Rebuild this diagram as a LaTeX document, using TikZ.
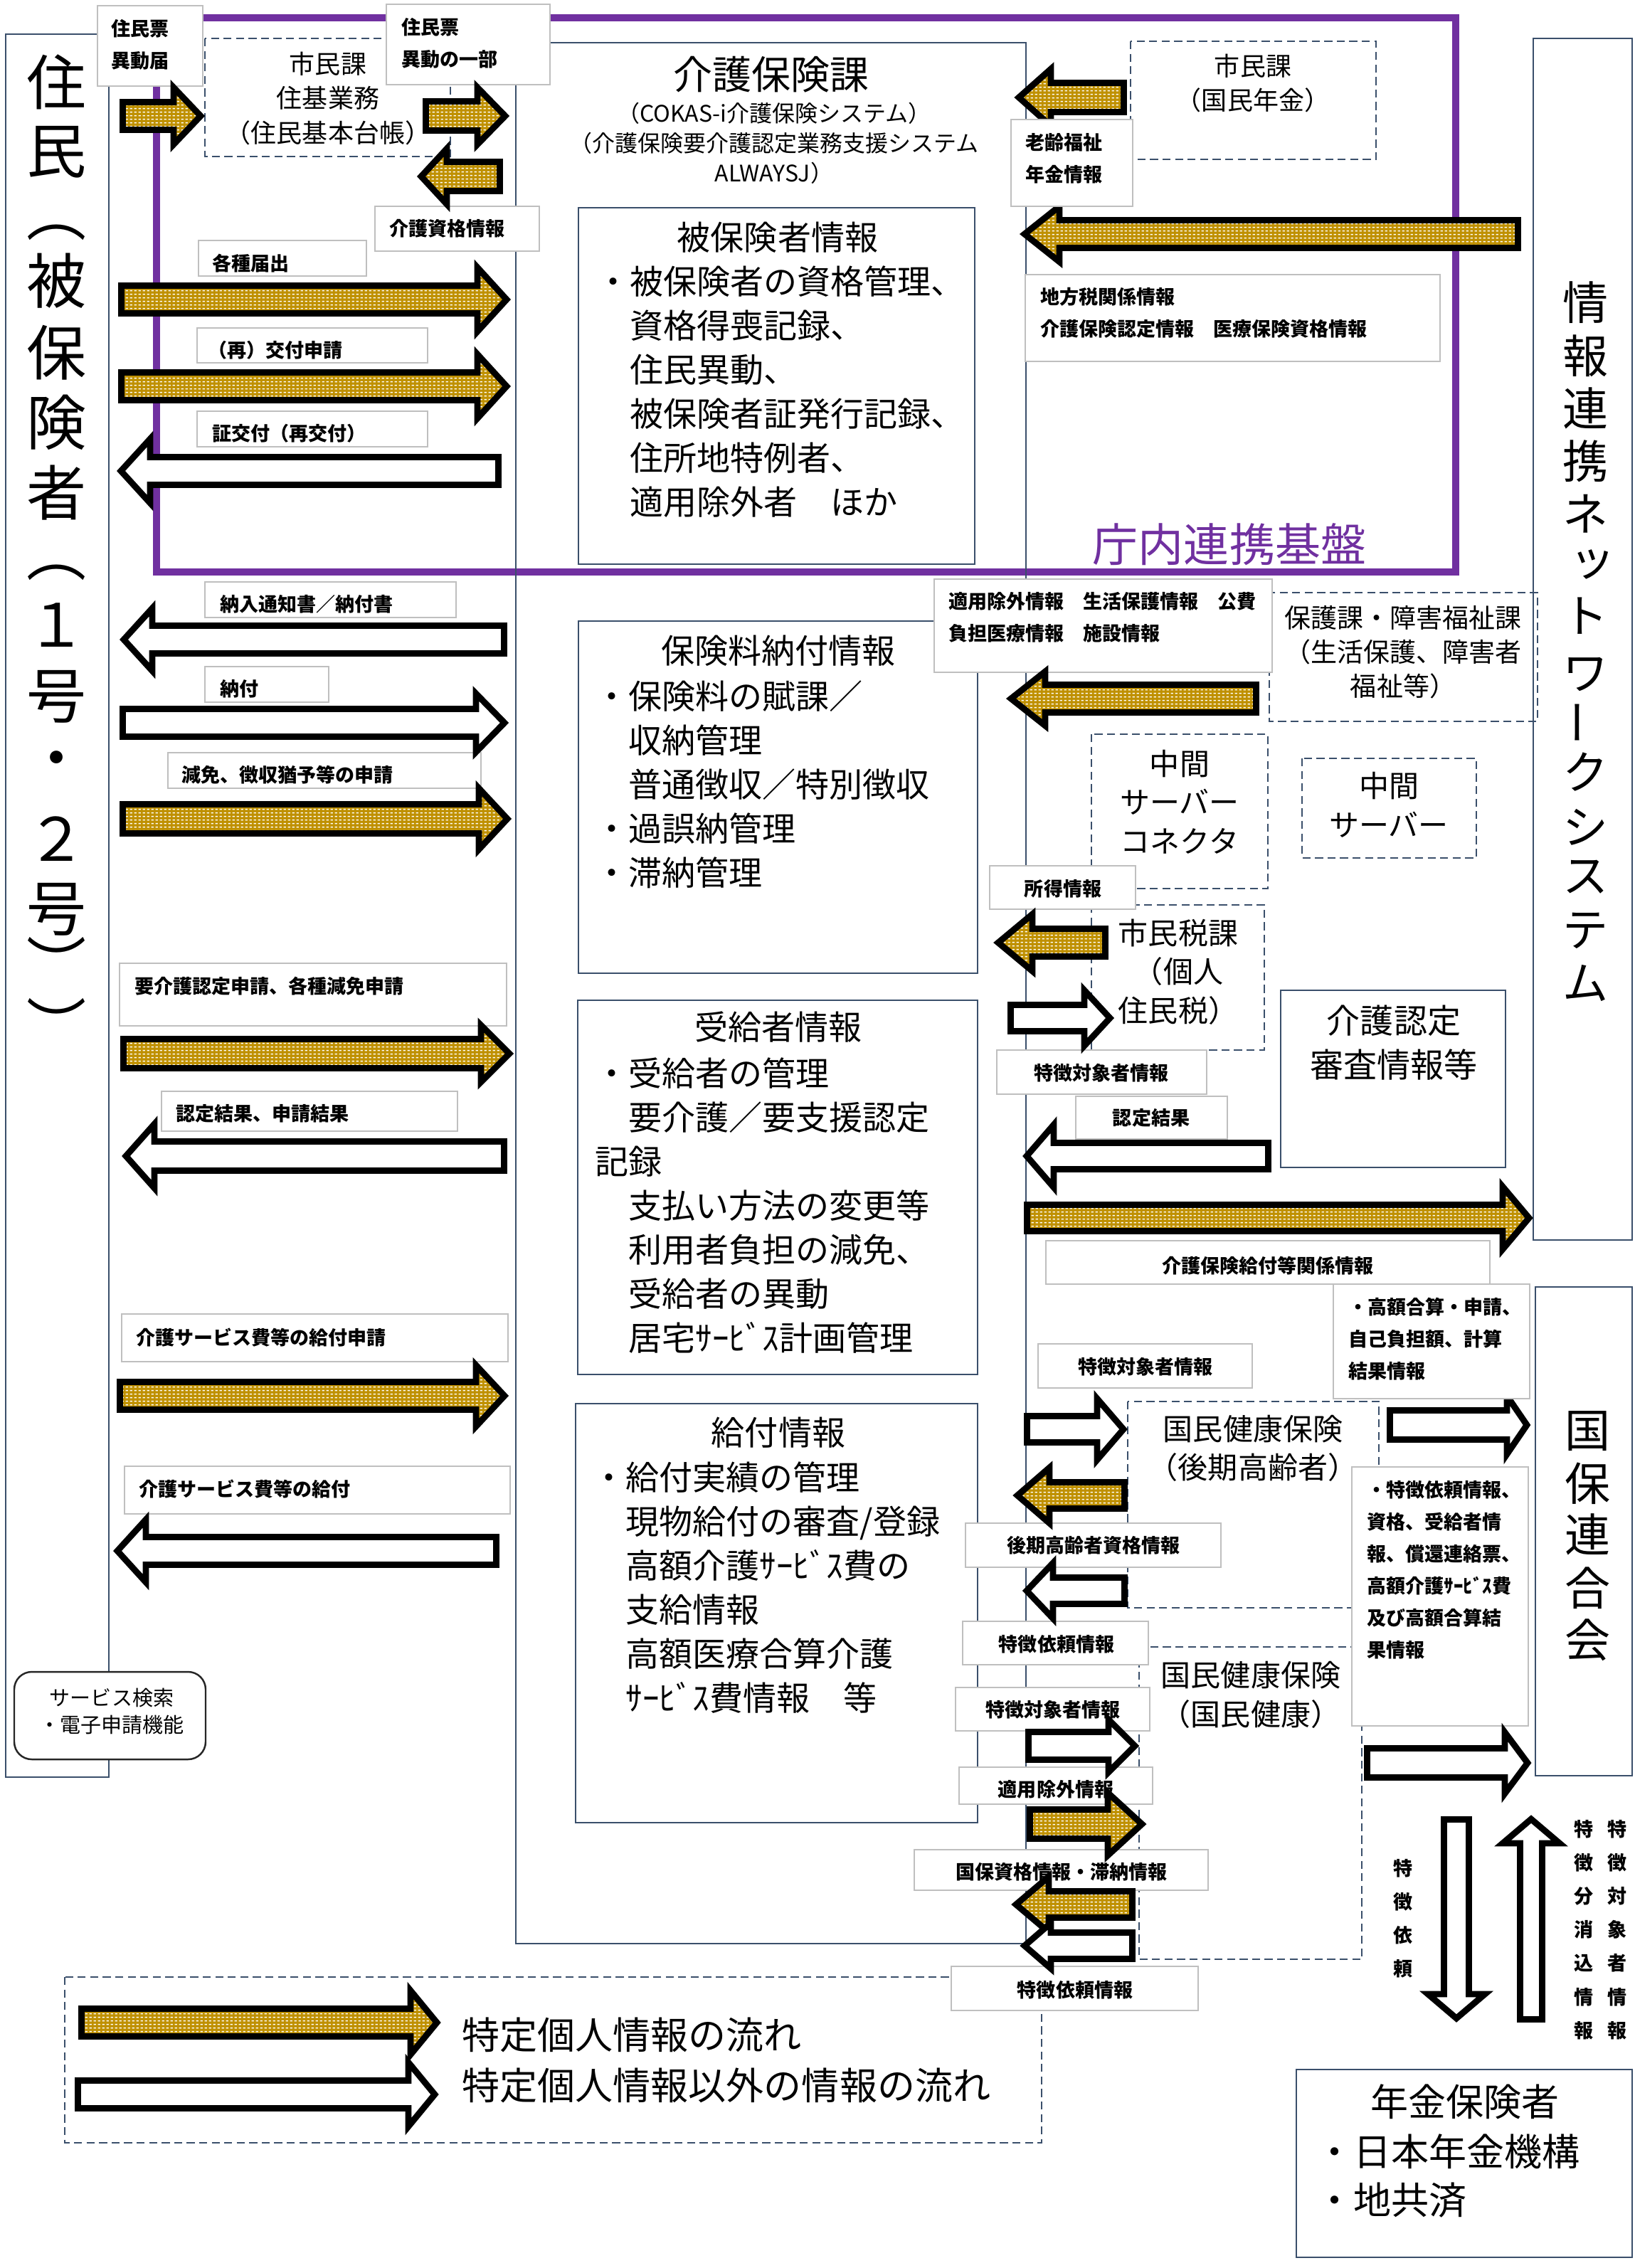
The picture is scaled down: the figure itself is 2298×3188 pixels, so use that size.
\documentclass[tikz,border=0pt]{standalone}
\usepackage{fontspec}
\setmainfont{Noto Sans CJK JP}
\usetikzlibrary{patterns.meta}
\definecolor{goldc}{HTML}{BF9000}
\definecolor{boxc}{HTML}{3A4F6B}
\definecolor{lblgray}{HTML}{BFBFBF}
\definecolor{purp}{HTML}{7030A0}
\newcommand\fs[2]{\fontsize{\fpeval{#1*0.284528}pt}{\fpeval{#2*0.284528}pt}\selectfont}
\tikzdeclarepattern{
  name=golddash,
  type=uncolored,
  bounding box={(0pt,0pt) and (1.8pt,1.4pt)},
  tile size={(1.8pt,1.4pt)},
  code={\pgfpathrectangle{\pgfqpoint{0.2pt}{0.45pt}}{\pgfqpoint{1.0pt}{0.45pt}}\pgfusepath{fill}}
}
% horizontal block arrow: style, tail x, head-base x, tip x, centre y, shaft half, head half (outer sizes)
\newcommand\harrow[7]{%
  \pgfmathsetmacro\sg{sign(#4-#2)}%
  \draw[#1] ({#2+4.5*(\sg)},{#5-#6+4.5}) -- ({#3},{#5-#6+4.5}) -- ({#3},{#5-#7+6}) -- ({#4-6*(\sg)},{#5})
     -- ({#3},{#5+#7-6}) -- ({#3},{#5+#6-4.5}) -- ({#2+4.5*(\sg)},{#5+#6-4.5}) -- cycle;}
% vertical block arrow: style, tail y, head-base y, tip y, centre x, shaft half, head half
\newcommand\varrow[7]{%
  \pgfmathsetmacro\sg{sign(#4-#2)}%
  \draw[#1] ({#5-#6+4.5},{#2+4.5*(\sg)}) -- ({#5-#6+4.5},{#3}) -- ({#5-#7+6},{#3}) -- ({#5},{#4-6*(\sg)})
     -- ({#5+#7-6},{#3}) -- ({#5+#6-4.5},{#3}) -- ({#5+#6-4.5},{#2+4.5*(\sg)}) -- cycle;}
\begin{document}
\begin{tikzpicture}[x=0.01cm,y=-0.01cm,
  lbl/.style={draw=lblgray, line width=0.6pt, fill=white},
  sbox/.style={draw=boxc, line width=0.75pt},
  dbox/.style={draw=boxc, line width=0.75pt, dash pattern=on 3.2pt off 1.8pt},
  lt/.style={inner sep=0pt, align=left, font=\bfseries\fs{27}{45}},
  ltc/.style={inner sep=0pt, align=center, font=\bfseries\fs{27}{47}},
  bodyt/.style={inner sep=0pt, align=left, anchor=north west, font=\fs{47}{62}},
  ctr/.style={inner sep=0pt, align=center},
  vl/.style={inner sep=0pt, font=\fs{84}{84}},
  vr/.style={inner sep=0pt, font=\fs{64}{64}},
  ga/.style={draw=black, line width=2.5pt, preaction={fill=goldc}, pattern=golddash, pattern color=white},
  wa/.style={draw=black, line width=2.5pt, fill=white}
]
\useasboundingbox (0,0) rectangle (2298,3188);
\fill[white] (0,0) rectangle (2298,3188);

% ---- purple base
\draw[purp, line width=2.8pt] (220,25) rectangle (2046,804);

% ---- solid boxes
\draw[sbox] (8,48) rectangle (153,2498);
\draw[sbox] (725,60) rectangle (1442,2732);
\draw[sbox] (813,292) rectangle (1370,793);
\draw[sbox] (813,873) rectangle (1374,1368);
\draw[sbox] (812,1406) rectangle (1374,1932);
\draw[sbox] (809,1973) rectangle (1374,2562);
\draw[sbox] (2155,54) rectangle (2294,1743);
\draw[sbox] (1800,1392) rectangle (2116,1641);
\draw[sbox] (2158,1809) rectangle (2294,2496);
\draw[sbox] (1822,2909) rectangle (2294,3173);

% ---- dashed boxes
\draw[dbox] (288,54) rectangle (633,220);
\draw[dbox] (1589,58) rectangle (1934,224);
\draw[dbox] (1784,833) rectangle (2161,1014);
\draw[dbox] (1534,1032) rectangle (1782,1249);
\draw[dbox] (1830,1066) rectangle (2075,1206);
\draw[dbox] (1534,1272) rectangle (1777,1476);
\draw[dbox] (1585,1970) rectangle (1938,2260);
\draw[dbox] (1601,2315) rectangle (1914,2754);
\draw[dbox] (91,2779) rectangle (1464,3012);

% ---- vertical texts
\foreach \c/\yy [count=\i] in {住/115,民/214,︵/327,被/395,保/496,険/594,者/693,︵/805,１/879,号/979,・/1076,２/1179,号/1278,︶/1352,︶/1438}
  \node[vl] (jm\i) at (80,\yy) {\c};
\foreach \c/\yy [count=\i] in {情/425,報/500,連/574,携/648,ネ/722,ト/866,ワ/948,ク/1085,シ/1163,ス/1233,テ/1308,ム/1382}
  \node[vr] (jr\i) at (2228,\yy) {\c};
\node[vr] (jrt) at (2238,793) {ッ};
\node[vr] (jrb) at (2228,1015) {\rotatebox[origin=c]{90}{ー}};
\foreach \c/\yy [count=\i] in {国/2012,保/2085,連/2157,合/2232,会/2305}
  \node[vr] (kk\i) at (2231,\yy) {\c};

% ---- box texts
\node[ctr, text=purp, font=\fs{64}{64}] (kiban) at (1728,765) {庁内連携基盤};
\node[ctr, font=\fs{55}{55}] (kaigo) at (1084,105) {介護保険課};
\node[ctr, anchor=north, font=\fs{32}{42}] (kaigosub) at (1088,143) {（COKAS-i介護保険システム）\\（介護保険要介護認定業務支援システム\\ALWAYSJ）};
\node[ctr, font=\fs{47}{62}] (hhtitle) at (1093,334) {被保険者情報};
\node[bodyt] (hhbody) at (838,373) {・被保険者の資格管理、\\　資格得喪記録、\\　住民異動、\\　被保険者証発行記録、\\　住所地特例者、\\　適用除外者　ほか};
\node[ctr, font=\fs{47}{62}] (hrtitle) at (1094,915) {保険料納付情報};
\node[bodyt] (hrbody) at (836,956) {・保険料の賦課／\\　収納管理\\　普通徴収／特別徴収\\・過誤納管理\\・滞納管理};
\node[ctr, font=\fs{47}{62}] (jktitle) at (1094,1444) {受給者情報};
\node[bodyt] (jkbody) at (836,1486) {・受給者の管理\\　要介護／要支援認定\\記録\\　支払い方法の変更等\\　利用者負担の減免、\\　受給者の異動\\　居宅ｻｰﾋﾞｽ計画管理};
\node[ctr, font=\fs{47}{62}] (kftitle) at (1094,2014) {給付情報};
\node[bodyt] (kfbody) at (832,2054) {・給付実績の管理\\　現物給付の審査/登録\\　高額介護ｻｰﾋﾞｽ費の\\　支給情報\\　高額医療合算介護\\　ｻｰﾋﾞｽ費情報　等};

\node[ctr, anchor=north, font=\fs{36}{48.5}] (shimin1) at (461,72) {市民課\\住基業務\\（住民基本台帳）};
\node[ctr, anchor=north, font=\fs{36}{48}] (shimin2) at (1761,75) {市民課\\（国民年金）};
\node[ctr, anchor=north, font=\fs{37}{48}] (hogo) at (1972,851) {保護課・障害福祉課\\（生活保護、障害者\\福祉等）};
\node[ctr, anchor=north, font=\fs{42}{54.5}] (chukan1) at (1658,1053) {中間\\サーバー\\コネクタ};
\node[ctr, anchor=north, font=\fs{42}{55}] (chukan2) at (1952,1084) {中間\\サーバー};
\node[ctr, anchor=north, font=\fs{42}{54.5}] (zeika) at (1656,1291) {市民税課\\（個人\\住民税）};
\node[ctr, anchor=north, font=\fs{47}{62}] (nintei) at (1959,1412) {介護認定\\審査情報等};
\node[ctr, anchor=north, font=\fs{42}{54}] (koki) at (1761,1988) {国民健康保険\\（後期高齢者）};
\node[ctr, anchor=north, font=\fs{42}{55}] (kokuho) at (1758,2334) {国民健康保険\\（国民健康）};
\node[ctr, font=\fs{53}{53}] (nenkin) at (2059,2954) {年金保険者};
\node[inner sep=0pt, align=left, anchor=north west, font=\fs{53}{68}] (nenkinb) at (1849,2999) {・日本年金機構\\・地共済};
\node[inner sep=0pt, anchor=west, font=\fs{53}{53}] (leg1) at (649,2860) {特定個人情報の流れ};
\node[inner sep=0pt, anchor=west, font=\fs{53}{53}] (leg2) at (649,2931) {特定個人情報以外の情報の流れ};

% ---- label boxes
\draw[lbl] (137,8) rectangle (285,121);
\draw[lbl] (543,6) rectangle (773,119);
\draw[lbl] (527,290) rectangle (758,353);
\draw[lbl] (279,338) rectangle (515,388);
\draw[lbl] (277,461) rectangle (601,510);
\draw[lbl] (277,578) rectangle (601,628);
\draw[lbl] (288,818) rectangle (641,868);
\draw[lbl] (288,937) rectangle (462,987);
\draw[lbl] (236,1058) rectangle (676,1108);
\draw[lbl] (168,1354) rectangle (712,1442);
\draw[lbl] (227,1534) rectangle (643,1590);
\draw[lbl] (171,1847) rectangle (714,1914);
\draw[lbl] (175,2061) rectangle (717,2128);
\draw[lbl] (1441,386) rectangle (2024,508);
\draw[lbl] (1313,814) rectangle (1788,945);
\draw[lbl] (1391,1217) rectangle (1596,1278);
\draw[lbl] (1401,1476) rectangle (1696,1538);
\draw[lbl] (1512,1541) rectangle (1725,1601);
\draw[lbl] (1470,1744) rectangle (2094,1805);
\draw[lbl] (1459,1889) rectangle (1760,1951);
\draw[lbl] (1357,2141) rectangle (1716,2203);
\draw[lbl] (1900,2062) rectangle (2148,2426);
\draw[lbl] (1353,2279) rectangle (1614,2340);
\draw[lbl] (1343,2372) rectangle (1616,2433);
\draw[lbl] (1348,2484) rectangle (1620,2536);
\draw[lbl] (1285,2600) rectangle (1698,2657);
\draw[lbl] (1337,2764) rectangle (1684,2826);

\node[lt, anchor=north west] (t1) at (156,27) {住民票\\異動届};
\node[lt, anchor=north west] (t2) at (564,25) {住民票\\異動の一部};
\node[lt, anchor=west] (t3) at (547,321) {介護資格情報};
\node[lt, anchor=west] (t4) at (298,370) {各種届出};
\node[lt, anchor=west] (t5) at (292,492) {（再）交付申請};
\node[lt, anchor=west] (t6) at (298,609) {証交付（再交付）};
\node[lt, anchor=west] (t7) at (309,849) {納入通知書／納付書};
\node[lt, anchor=west] (t8) at (309,968) {納付};
\node[lt, anchor=west] (t9) at (255,1089) {減免、徴収猶予等の申請};
\node[lt, anchor=west] (t10) at (189,1386) {要介護認定申請、各種減免申請};
\node[lt, anchor=west] (t11) at (247,1565) {認定結果、申請結果};
\node[lt, anchor=west] (t12) at (191,1880) {介護サービス費等の給付申請};
\node[lt, anchor=west] (t13) at (195,2093) {介護サービス費等の給付};
\node[lt, anchor=north west] (t15) at (1462,404) {地方税関係情報\\介護保険認定情報　医療保険資格情報};
\node[lt, anchor=north west] (t16) at (1333,832) {適用除外情報　生活保護情報　公費\\負担医療情報　施設情報};
\node[lt] (t17) at (1494,1249) {所得情報};
\node[lt] (t18) at (1548,1508) {特徴対象者情報};
\node[lt] (t19) at (1618,1571) {認定結果};
\node[lt] (t20) at (1782,1779) {介護保険給付等関係情報};
\node[lt] (t22) at (1610,1921) {特徴対象者情報};
\node[lt] (t23) at (1537,2172) {後期高齢者資格情報};
\node[lt, anchor=north west] (t24) at (1921,2081) {・特徴依頼情報、\\資格、受給者情\\報、償還連絡票、\\高額介護ｻｰﾋﾞｽ費\\及び高額合算結\\果情報};
\node[lt] (t25) at (1485,2311) {特徴依頼情報};
\node[lt] (t26) at (1480,2403) {特徴対象者情報};
\node[lt] (t27) at (1484,2515) {適用除外情報};
\node[lt] (t28) at (1492,2631) {国保資格情報・滞納情報};
\node[lt] (t29) at (1511,2797) {特徴依頼情報};
\node[ltc, anchor=north] (t30) at (1972,2613) {特\\徴\\依\\頼};
\node[ltc, anchor=north] (t31) at (2226,2558) {特\\徴\\分\\消\\込\\情\\報};
\node[ltc, anchor=north] (t32) at (2273,2558) {特\\徴\\対\\象\\者\\情\\報};

% ---- arrows
\harrow{ga}{168}{244}{288}{163}{24}{46}
\harrow{ga}{594}{671}{716}{163}{25}{46}
\harrow{ga}{707}{628}{586}{248}{25}{45}
\harrow{ga}{166}{671}{718}{421}{24}{51}
\harrow{ga}{166}{671}{718}{543}{24}{51}
\harrow{wa}{705}{211}{164}{662}{24}{51}
\harrow{wa}{713}{214}{168}{899}{24}{50}
\harrow{wa}{168}{669}{715}{1016}{24}{47}
\harrow{ga}{168}{673}{719}{1151}{25}{49}
\harrow{ga}{169}{676}{722}{1481}{25}{46}
\harrow{wa}{713}{217}{171}{1625}{25}{51}
\harrow{ga}{164}{669}{715}{1962}{24}{49}
\harrow{wa}{702}{205}{159}{2180}{24}{50}
\harrow{ga}{1584}{1477}{1426}{137}{25}{46}
\harrow{ga}{2138}{1489}{1434}{329}{24}{45}
\harrow{ga}{1770}{1469}{1415}{982}{24}{44}
\harrow{ga}{1558}{1451}{1397}{1325}{24}{46}
\harrow{wa}{1416}{1524}{1566}{1431}{23}{45}
\harrow{wa}{1787}{1481}{1437}{1625}{23}{50}
\harrow{ga}{1439}{2112}{2155}{1712}{23}{50}
\harrow{wa}{1439}{1542}{1585}{2009}{23}{49}
\harrow{wa}{1949}{2118}{2152}{2003}{25}{47}
\harrow{ga}{1585}{1475}{1424}{2102}{23}{45}
\harrow{wa}{1585}{1480}{1437}{2236}{23}{45}
\harrow{wa}{1441}{1558}{1601}{2454}{24}{43}
\harrow{ga}{1443}{1557}{1611}{2564}{25}{50}
\harrow{ga}{1596}{1474}{1422}{2677}{23}{45}
\harrow{wa}{1596}{1477}{1434}{2735}{23}{38}
\harrow{wa}{1917}{2115}{2153}{2478}{25}{49}
\harrow{ga}{110}{577}{620}{2843}{24}{51}
\harrow{wa}{105}{574}{617}{2944}{24}{51}
\varrow{wa}{2553}{2803}{2843}{2047}{22}{46}
\varrow{wa}{2843}{2591}{2551}{2152}{20}{46}

% ---- labels lying over arrows
\draw[lbl] (1421,168) rectangle (1592,290);
\node[lt, anchor=north west] (t14) at (1441,187) {老齢福祉\\年金情報};
\draw[lbl] (1874,1805) rectangle (2150,1966);
\node[lt, anchor=north west] (t21) at (1895,1823) {・高額合算・申請、\\自己負担額、計算\\結果情報};

% ---- service box
\draw[draw=black!85, line width=0.7pt, fill=white, rounded corners=7pt] (20,2350) rectangle (289,2473);
\node[ctr, anchor=north, font=\fs{29}{38}] (svc) at (157,2372) {サービス検索\\・電子申請機能};
\end{tikzpicture}
\end{document}
